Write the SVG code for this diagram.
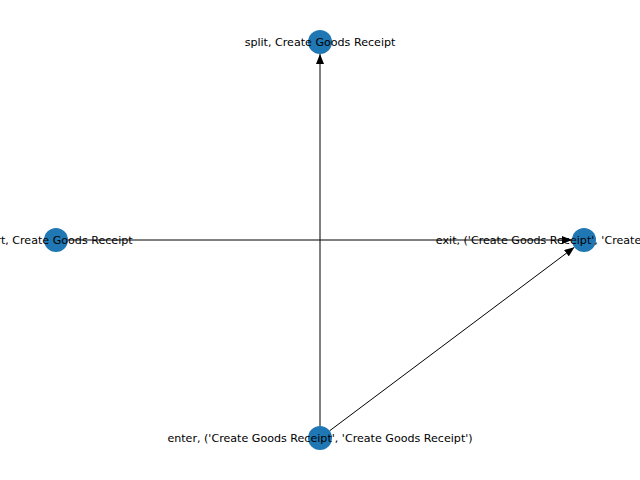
<svg xmlns="http://www.w3.org/2000/svg" width="640" height="480" viewBox="0 0 640 480">
<style>
.edge{stroke:#000;stroke-width:1;fill:none}
.node{fill:#1f77b4}
.lbl{font-family:"DejaVu Sans",sans-serif;font-size:11.1px;fill:#000;text-anchor:middle;dominant-baseline:central}
</style>
<defs>
<marker id="arr" viewBox="0 0 10 8" refX="10" refY="4" markerWidth="10" markerHeight="8" markerUnits="userSpaceOnUse" orient="auto">
<path d="M0,0 L10,4 L0,8 Z" fill="#000"/>
</marker>
</defs>
<rect width="640" height="480" fill="#fff"/>
<g id="edges">
<line class="edge" x1="320" y1="426" x2="320" y2="54" marker-end="url(#arr)"/>
<line class="edge" x1="68" y1="240" x2="572" y2="240" marker-end="url(#arr)"/>
<line class="edge" x1="329.6" y1="430.8" x2="574.4" y2="247.2" marker-end="url(#arr)"/>
</g>
<g id="node-split">
<circle class="node" cx="320" cy="42" r="12"/>
<text class="lbl" x="320" y="42">split, Create Goods Receipt</text>
</g>
<g id="node-start">
<circle class="node" cx="56" cy="240" r="12"/>
<text class="lbl" x="56" y="240">start, Create Goods Receipt</text>
</g>
<g id="node-exit">
<circle class="node" cx="584" cy="240" r="12"/>
<text class="lbl" x="584" y="240">exit, ('Create Goods Receipt', 'Create Goods Receipt')</text>
</g>
<g id="node-enter">
<circle class="node" cx="320" cy="438" r="12"/>
<text class="lbl" x="320" y="438">enter, ('Create Goods Receipt', 'Create Goods Receipt')</text>
</g>
</svg>
